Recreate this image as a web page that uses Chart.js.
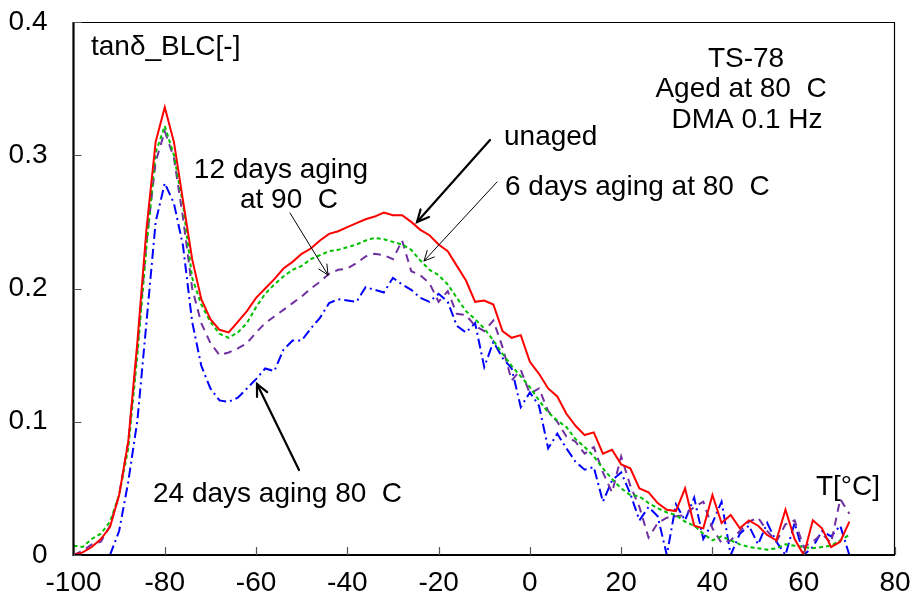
<!DOCTYPE html>
<html>
<head>
<meta charset="utf-8">
<script src="https://cdn.jsdelivr.net/npm/chart.js@4.4.1/dist/chart.umd.min.js"></script>
<style>
html,body{margin:0;padding:0;background:#fff;}
#wrap{width:914px;height:607px;position:relative;}
</style>
</head>
<body>
<div id="wrap"><canvas id="c" width="914" height="607"></canvas></div>
<script>
// Temperature (°C)
const temps = [-100,-98,-96,-94,-92,-90,-88,-86,-84,-82,-80,-78,-76,-74,-72,-70,-68,-66,-64,-62,-60,-58,-56,-54,-52,-50,-48,-46,-44,-42,-40,-38,-36,-34,-32,-30,-28,-26,-24,-22,-20,-18,-16,-14,-12,-10,-8,-6,-4,-2,0,2,4,6,8,10,12,14,16,18,20,22,24,26,28,30,32,34,36,38,40,42,44,46,48,50,52,54,56,58,60,62,64,66,68,70];

// tanδ_BLC, unaged
const unaged = [0.000,0.002,0.006,0.012,0.021,0.045,0.085,0.160,0.245,0.310,0.336,0.310,0.266,0.222,0.192,0.177,0.169,0.167,0.175,0.183,0.193,0.200,0.207,0.215,0.220,0.226,0.230,0.236,0.241,0.243,0.246,0.249,0.252,0.254,0.257,0.255,0.255,0.250,0.244,0.240,0.233,0.228,0.217,0.206,0.190,0.191,0.188,0.168,0.163,0.165,0.145,0.136,0.125,0.119,0.106,0.097,0.090,0.092,0.076,0.079,0.068,0.065,0.050,0.047,0.039,0.034,0.033,0.050,0.022,0.020,0.045,0.024,0.030,0.020,0.026,0.022,0.015,0.011,0.034,0.012,0.000,0.026,0.020,0.006,0.010,0.025];

// 6 days aging at 80 C
const aged6d80 = [0.007,0.006,0.012,0.016,0.025,0.045,0.080,0.150,0.232,0.302,0.322,0.300,0.263,0.208,0.188,0.175,0.166,0.163,0.167,0.174,0.186,0.196,0.203,0.209,0.214,0.217,0.222,0.225,0.228,0.229,0.231,0.233,0.236,0.238,0.237,0.235,0.233,0.229,0.221,0.214,0.210,0.203,0.193,0.183,0.177,0.170,0.161,0.151,0.142,0.134,0.126,0.116,0.107,0.101,0.096,0.087,0.081,0.074,0.065,0.057,0.050,0.045,0.044,0.039,0.035,0.032,0.030,0.025,0.022,0.016,0.011,0.014,0.011,0.008,0.006,0.005,0.004,0.005,0.008,0.007,0.006,0.005,0.006,0.007,0.011,0.015];

// 12 days aging at 90 C
const aged12d90 = [0.000,0.003,0.008,0.010,0.022,0.045,0.085,0.155,0.235,0.295,0.318,0.298,0.253,0.200,0.174,0.159,0.150,0.152,0.155,0.159,0.167,0.174,0.179,0.184,0.189,0.194,0.200,0.205,0.211,0.214,0.215,0.219,0.224,0.226,0.225,0.222,0.236,0.213,0.210,0.204,0.190,0.198,0.181,0.180,0.172,0.168,0.176,0.156,0.131,0.139,0.121,0.125,0.108,0.100,0.089,0.085,0.076,0.081,0.062,0.047,0.074,0.052,0.036,0.013,0.024,0.028,0.029,0.030,0.036,0.040,0.020,0.009,0.011,0.018,0.025,0.028,0.018,0.010,0.023,0.026,0.006,0.010,0.016,0.009,0.042,0.031];

// 24 days aging 80 C
const aged24d80 = [null,null,null,null,0.000,0.018,0.055,0.101,0.175,0.250,0.279,0.264,0.232,0.175,0.142,0.125,0.116,0.115,0.118,0.125,0.132,0.140,0.138,0.154,0.161,0.161,0.170,0.178,0.189,0.192,0.191,0.190,0.201,0.199,0.197,0.208,0.203,0.199,0.193,0.190,0.196,0.190,0.172,0.167,0.174,0.141,0.160,0.148,0.140,0.111,0.122,0.112,0.080,0.091,0.080,0.070,0.064,0.066,0.040,0.056,0.062,0.046,0.026,0.036,0.029,0.000,0.038,0.026,0.043,0.012,0.024,0.040,0.000,0.016,0.022,0.008,0.024,0.010,0.000,0.024,0.000,0.006,0.018,0.014,0.022,0.000];

const xTicks = [-100,-80,-60,-40,-20,0,20,40,60,80];
const yTicks = [0,0.1,0.2,0.3,0.4];

const FONT = "'Liberation Sans', Arial, sans-serif";

function pts(vals){ return temps.map((t,i)=>({x:t,y:vals[i]})); }

function noPad(s){ s.paddingLeft = 0; s.paddingRight = 0; s.paddingTop = 0; s.paddingBottom = 0; }

const annot = {
  id:'annot',
  afterDatasetsDraw(chart){
    const ctx = chart.ctx, a = chart.chartArea;
    const xs = chart.scales.x, ys = chart.scales.y;
    ctx.save();
    // frame
    ctx.strokeStyle = '#000';
    ctx.lineWidth = 1.2;
    ctx.beginPath();
    ctx.moveTo(a.left, a.top+0.5); ctx.lineTo(a.right-0.5, a.top+0.5); ctx.lineTo(a.right-0.5, a.bottom);
    ctx.stroke();
    ctx.lineWidth = 2.2;
    ctx.beginPath();
    ctx.moveTo(a.left, a.top); ctx.lineTo(a.left, a.bottom); ctx.lineTo(a.right, a.bottom);
    ctx.stroke();
    // inward ticks
    ctx.lineWidth = 1.2;
    ctx.strokeStyle = '#555';
    ctx.beginPath();
    xTicks.forEach(v=>{ const px = Math.round(xs.getPixelForValue(v))+0.5; ctx.moveTo(px,a.bottom); ctx.lineTo(px,a.bottom-8); });
    yTicks.forEach(v=>{ const py = Math.round(ys.getPixelForValue(v))+0.5; ctx.moveTo(a.left,py); ctx.lineTo(a.left+8,py); });
    ctx.stroke();

    // texts
    ctx.fillStyle = '#000';
    ctx.textBaseline = 'middle';
    ctx.font = '28px ' + FONT;
    ctx.textAlign = 'left';
    ctx.fillText('tanδ_BLC[-]', 91, 47);
    ctx.textAlign = 'center';
    ctx.fillText('TS-78', 746, 59);
    ctx.fillText('Aged at 80  C', 741, 89);
    ctx.fillText('DMA 0.1 Hz', 747, 120);
    ctx.fillText('12 days aging', 281, 170);
    ctx.fillText('at 90  C', 289, 200);
    ctx.fillText('T[°C]', 848, 487);
    ctx.textAlign = 'left';
    ctx.fillText('unaged', 504, 137);
    ctx.fillText('6 days aging at 80  C', 505, 187);
    ctx.fillText('24 days aging 80  C', 153, 494);

    // arrows
    function arrow(x1,y1,x2,y2,w,hl){
      ctx.strokeStyle = '#000';
      ctx.lineWidth = w;
      ctx.lineCap = 'round';
      ctx.beginPath(); ctx.moveTo(x1,y1); ctx.lineTo(x2,y2); ctx.stroke();
      const ang = Math.atan2(y2-y1, x2-x1);
      const sp = 0.45;
      ctx.beginPath();
      ctx.moveTo(x2 - hl*Math.cos(ang-sp), y2 - hl*Math.sin(ang-sp));
      ctx.lineTo(x2,y2);
      ctx.lineTo(x2 - hl*Math.cos(ang+sp), y2 - hl*Math.sin(ang+sp));
      ctx.stroke();
    }
    arrow(490,140,417,222,2.2,13);
    arrow(497,182,424,261,1,11);
    arrow(290,213,328,275,1,11);
    arrow(299,470,257,384,2.2,13);
    ctx.restore();
  }
};

new Chart(document.getElementById('c'), {
  type:'line',
  data:{
    datasets:[
      {label:'unaged', data:pts(unaged), borderColor:'#ff0000', borderWidth:2, pointRadius:0, tension:0},
      {label:'6 days aging at 80 C', data:pts(aged6d80), borderColor:'#00c000', borderWidth:2, borderDash:[4,3], pointRadius:0, tension:0},
      {label:'12 days aging at 90 C', data:pts(aged12d90), borderColor:'#7030a0', borderWidth:2, borderDash:[8,6], pointRadius:0, tension:0},
      {label:'24 days aging 80 C', data:pts(aged24d80), borderColor:'#0000ff', borderWidth:2, borderDash:[10,4,2,4], pointRadius:0, tension:0}
    ]
  },
  options:{
    responsive:false,
    animation:false,
    layout:{padding:{left:0,right:19,top:22,bottom:0}},
    plugins:{legend:{display:false}, tooltip:{enabled:false}},
    scales:{
      x:{type:'linear', min:-100, max:80,
        afterFit(s){ s.height = 52; noPad(s); },
        afterBuildTicks(s){ s.ticks = xTicks.map(v=>({value:v})); },
        grid:{display:false, drawTicks:false},
        border:{display:false},
        ticks:{padding:11, color:'#000', font:{family:FONT, size:28}, maxRotation:0, autoSkip:false}
      },
      y:{type:'linear', min:0, max:0.4,
        afterFit(s){ s.width = 73.5; noPad(s); },
        afterBuildTicks(s){ s.ticks = yTicks.map(v=>({value:v})); },
        grid:{display:false, drawTicks:false},
        border:{display:false},
        ticks:{padding:26, color:'#000', font:{family:FONT, size:28},
          callback:(v)=> v===0 ? '0' : v.toFixed(1)}
      }
    }
  },
  plugins:[annot]
});
</script>
</body>
</html>
